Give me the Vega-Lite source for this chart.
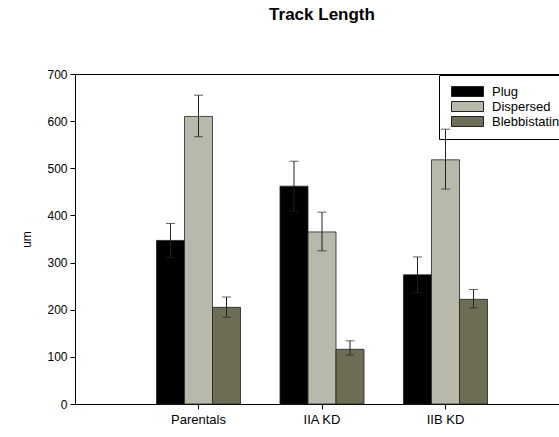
{
  "$schema": "https://vega.github.io/schema/vega-lite/v6.json",
  "autosize": {"type": "none"},
  "padding": {"left": 75, "top": 74, "right": 0, "bottom": 33},
  "width": 494,
  "height": 330,
  "background": "white",
  "title": {"text": "Track Length", "font": "Liberation Sans", "fontSize": 17, "fontWeight": "bold", "color": "#000", "anchor": "middle", "dx": 0, "offset": 44},
  "config": {
    "view": {"stroke": null},
    "font": "Liberation Sans",
    "axis": {"domainColor": "#000", "tickColor": "#000", "labelColor": "#000", "titleColor": "#000", "grid": false, "labelFont": "Liberation Sans", "titleFont": "Liberation Sans"}
  },
  "data": {"values": [
    {"group": "Parentals", "treatment": "Plug", "mean": 347, "lo": 311, "hi": 383},
    {"group": "Parentals", "treatment": "Dispersed", "mean": 610, "lo": 567, "hi": 655},
    {"group": "Parentals", "treatment": "Blebbistatin", "mean": 205, "lo": 184, "hi": 227},
    {"group": "IIA KD", "treatment": "Plug", "mean": 462, "lo": 409, "hi": 515},
    {"group": "IIA KD", "treatment": "Dispersed", "mean": 365, "lo": 325, "hi": 407},
    {"group": "IIA KD", "treatment": "Blebbistatin", "mean": 116, "lo": 104, "hi": 134},
    {"group": "IIB KD", "treatment": "Plug", "mean": 274, "lo": 236, "hi": 312},
    {"group": "IIB KD", "treatment": "Dispersed", "mean": 518, "lo": 456, "hi": 583},
    {"group": "IIB KD", "treatment": "Blebbistatin", "mean": 222, "lo": 204, "hi": 243}
  ]},
  "encoding": {
    "xOffset": {"field": "treatment", "type": "nominal", "sort": ["Plug", "Dispersed", "Blebbistatin"],
      "scale": {"paddingInner": 0, "paddingOuter": 0.705}}
  },
  "resolve": {"axis": {"x": "independent", "y": "independent"}},
  "layer": [
    {
      "mark": {"type": "bar", "stroke": "#222", "strokeWidth": 0.8},
      "encoding": {
        "x": {"field": "group", "type": "nominal", "sort": ["Parentals", "IIA KD", "IIB KD"],
          "scale": {"paddingInner": 0, "paddingOuter": 0.5},
          "axis": {"title": null, "labelAngle": 0, "labelFontSize": 13, "tickSize": 5, "labelPadding": 4, "domainWidth": 1}},
        "y": {"field": "mean", "type": "quantitative", "scale": {"domain": [0, 700], "nice": false},
          "axis": {"title": "um", "titleFontSize": 12, "titleFontWeight": "normal", "titlePadding": 13, "values": [0,100,200,300,400,500,600,700], "labelFontSize": 12, "tickSize": 5, "labelPadding": 3}},
        "fill": {"field": "treatment", "type": "nominal", "sort": ["Plug", "Dispersed", "Blebbistatin"],
          "scale": {"domain": ["Plug", "Dispersed", "Blebbistatin"], "range": ["#000000", "#b8b8ab", "#6e6e56"]},
          "legend": {"title": null, "orient": "none", "legendX": 364, "legendY": 1, "strokeColor": "#000", "padding": 10,
            "symbolType": "M-3.2,-1H3.2V1H-3.2Z", "symbolSize": 100, "symbolStrokeColor": "#222", "symbolStrokeWidth": 1,
            "labelFontSize": 13, "labelColor": "#000", "labelFont": "Liberation Sans", "rowPadding": 0, "labelOffset": 18, "symbolOffset": 12}}
      }
    },
    {
      "mark": {"type": "rule", "color": "#222", "strokeWidth": 1},
      "encoding": {
        "x": {"field": "group", "type": "nominal", "sort": ["Parentals", "IIA KD", "IIB KD"],
          "axis": {"orient": "top", "title": null, "labels": false, "ticks": false, "domain": true, "domainColor": "#000"}},
        "y": {"field": "lo", "type": "quantitative", "axis": null},
        "y2": {"field": "hi"}
      }
    },
    {
      "mark": {"type": "tick", "color": "#222", "thickness": 1, "size": 9},
      "encoding": {
        "x": {"field": "group", "type": "nominal", "sort": ["Parentals", "IIA KD", "IIB KD"], "axis": null},
        "y": {"field": "hi", "type": "quantitative", "axis": null}
      }
    },
    {
      "mark": {"type": "tick", "color": "#222", "thickness": 1, "size": 9},
      "encoding": {
        "x": {"field": "group", "type": "nominal", "sort": ["Parentals", "IIA KD", "IIB KD"], "axis": null},
        "y": {"field": "lo", "type": "quantitative", "axis": null}
      }
    }
  ]
}
